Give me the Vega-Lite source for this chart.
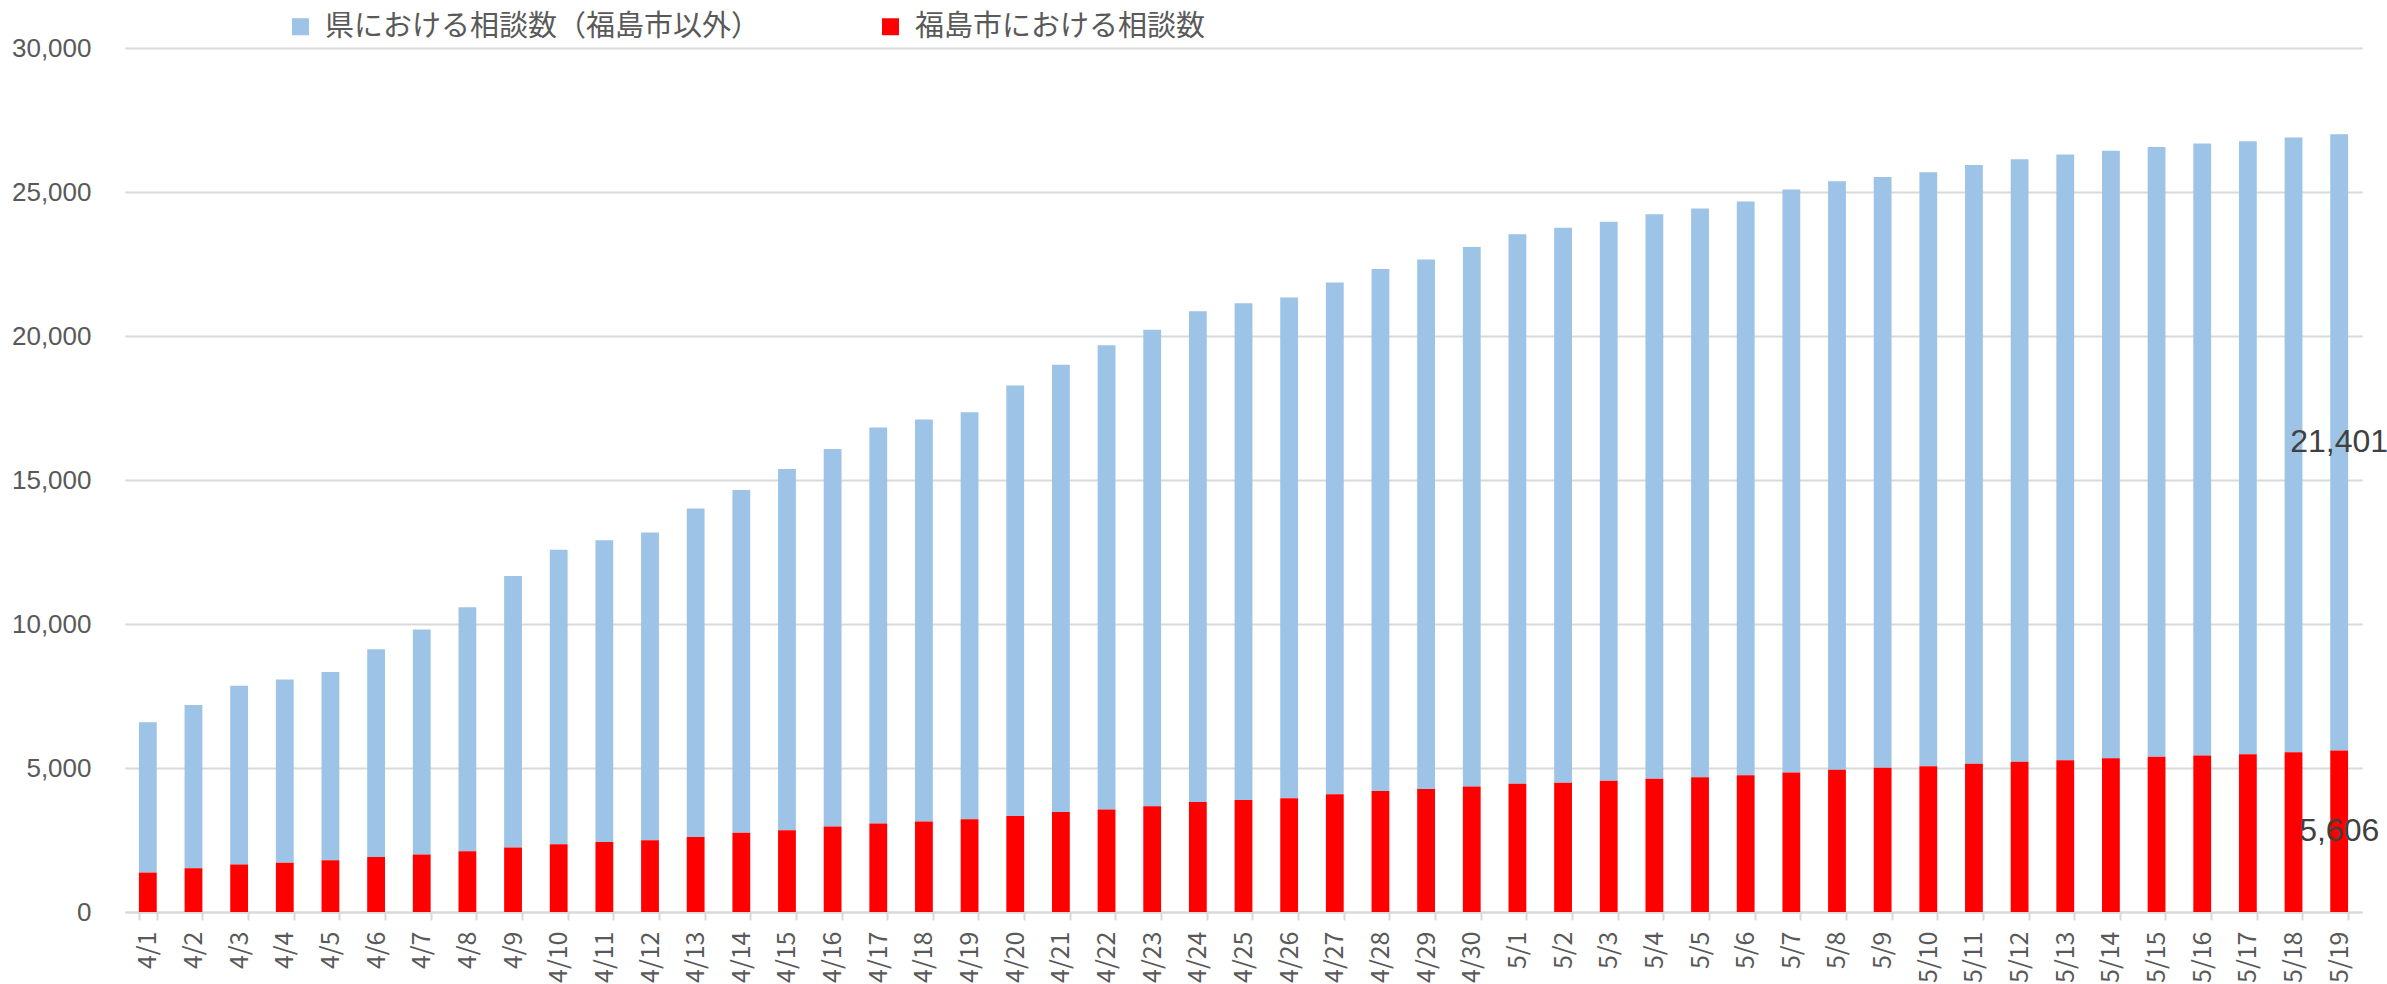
{
  "$schema": "https://vega.github.io/schema/vega-lite/v6.json",
  "width": 2237,
  "height": 864,
  "autosize": {"type": "none"},
  "padding": {"left": 125, "top": 48, "right": 25, "bottom": 72},
  "background": "white",
  "config": {"view": {"stroke": null}},
  "datasets": {
    "consult": [
      {"d": "4/1", "県における相談数（福島市以外）": 5220, "福島市における相談数": 1370},
      {"d": "4/2", "県における相談数（福島市以外）": 5670, "福島市における相談数": 1520},
      {"d": "4/3", "県における相談数（福島市以外）": 6210, "福島市における相談数": 1650},
      {"d": "4/4", "県における相談数（福島市以外）": 6360, "福島市における相談数": 1710},
      {"d": "4/5", "県における相談数（福島市以外）": 6530, "福島市における相談数": 1800},
      {"d": "4/6", "県における相談数（福島市以外）": 7210, "福島市における相談数": 1910},
      {"d": "4/7", "県における相談数（福島市以外）": 7810, "福島市における相談数": 2000},
      {"d": "4/8", "県における相談数（福島市以外）": 8470, "福島市における相談数": 2110},
      {"d": "4/9", "県における相談数（福島市以外）": 9430, "福島市における相談数": 2240},
      {"d": "4/10", "県における相談数（福島市以外）": 10230, "福島市における相談数": 2350},
      {"d": "4/11", "県における相談数（福島市以外）": 10480, "福島市における相談数": 2430},
      {"d": "4/12", "県における相談数（福島市以外）": 10690, "福島市における相談数": 2490},
      {"d": "4/13", "県における相談数（福島市以外）": 11410, "福島市における相談数": 2600},
      {"d": "4/14", "県における相談数（福島市以外）": 11900, "福島市における相談数": 2750},
      {"d": "4/15", "県における相談数（福島市以外）": 12540, "福島市における相談数": 2840},
      {"d": "4/16", "県における相談数（福島市以外）": 13110, "福島市における相談数": 2970},
      {"d": "4/17", "県における相談数（福島市以外）": 13750, "福島市における相談数": 3070},
      {"d": "4/18", "県における相談数（福島市以外）": 13960, "福島市における相談数": 3140},
      {"d": "4/19", "県における相談数（福島市以外）": 14130, "福島市における相談数": 3220},
      {"d": "4/20", "県における相談数（福島市以外）": 14950, "福島市における相談数": 3330},
      {"d": "4/21", "県における相談数（福島市以外）": 15530, "福島市における相談数": 3470},
      {"d": "4/22", "県における相談数（福島市以外）": 16120, "福島市における相談数": 3560},
      {"d": "4/23", "県における相談数（福島市以外）": 16550, "福島市における相談数": 3670},
      {"d": "4/24", "県における相談数（福島市以外）": 17040, "福島市における相談数": 3820},
      {"d": "4/25", "県における相談数（福島市以外）": 17250, "福島市における相談数": 3890},
      {"d": "4/26", "県における相談数（福島市以外）": 17390, "福島市における相談数": 3950},
      {"d": "4/27", "県における相談数（福島市以外）": 17770, "福島市における相談数": 4090},
      {"d": "4/28", "県における相談数（福島市以外）": 18130, "福島市における相談数": 4200},
      {"d": "4/29", "県における相談数（福島市以外）": 18390, "福島市における相談数": 4270},
      {"d": "4/30", "県における相談数（福島市以外）": 18730, "福島市における相談数": 4360},
      {"d": "5/1", "県における相談数（福島市以外）": 19080, "福島市における相談数": 4450},
      {"d": "5/2", "県における相談数（福島市以外）": 19270, "福島市における相談数": 4490},
      {"d": "5/3", "県における相談数（福島市以外）": 19410, "福島市における相談数": 4560},
      {"d": "5/4", "県における相談数（福島市以外）": 19600, "福島市における相談数": 4630},
      {"d": "5/5", "県における相談数（福島市以外）": 19750, "福島市における相談数": 4680},
      {"d": "5/6", "県における相談数（福島市以外）": 19920, "福島市における相談数": 4750},
      {"d": "5/7", "県における相談数（福島市以外）": 20250, "福島市における相談数": 4840},
      {"d": "5/8", "県における相談数（福島市以外）": 20430, "福島市における相談数": 4940},
      {"d": "5/9", "県における相談数（福島市以外）": 20510, "福島市における相談数": 5010},
      {"d": "5/10", "県における相談数（福島市以外）": 20630, "福島市における相談数": 5060},
      {"d": "5/11", "県における相談数（福島市以外）": 20790, "福島市における相談数": 5150},
      {"d": "5/12", "県における相談数（福島市以外）": 20920, "福島市における相談数": 5220},
      {"d": "5/13", "県における相談数（福島市以外）": 21030, "福島市における相談数": 5270},
      {"d": "5/14", "県における相談数（福島市以外）": 21090, "福島市における相談数": 5340},
      {"d": "5/15", "県における相談数（福島市以外）": 21170, "福島市における相談数": 5390},
      {"d": "5/16", "県における相談数（福島市以外）": 21250, "福島市における相談数": 5430},
      {"d": "5/17", "県における相談数（福島市以外）": 21280, "福島市における相談数": 5480},
      {"d": "5/18", "県における相談数（福島市以外）": 21340, "福島市における相談数": 5550},
      {"d": "5/19", "県における相談数（福島市以外）": 21401, "福島市における相談数": 5606}
    ]
  },
  "data": {"name": "consult"},
  "transform": [
    {"fold": ["県における相談数（福島市以外）", "福島市における相談数"], "as": ["series", "value"]}
  ],
  "layer": [
    {
      "mark": {"type": "bar"},
      "encoding": {
        "x": {
          "field": "d",
          "type": "ordinal",
          "sort": null,
          "title": null,
          "scale": {"paddingInner": 0.61, "paddingOuter": 0.305},
          "axis": {
            "labelAngle": -90,
            "labelFont": "Noto Sans CJK JP",
            "labelFontSize": 25,
            "labelColor": "#595959",
            "labelPadding": 11,
            "tickBand": "extent",
            "tickSize": 8,
            "tickColor": "#d9d9d9",
            "tickWidth": 2,
            "domainColor": "#d9d9d9",
            "domainWidth": 2,
            "grid": false
          }
        },
        "y": {
          "field": "value",
          "type": "quantitative",
          "stack": "zero",
          "title": null,
          "scale": {"domain": [0, 30000], "nice": false},
          "axis": {
            "values": [0, 5000, 10000, 15000, 20000, 25000, 30000],
            "format": ",d",
            "labelFont": "Liberation Sans",
            "labelFontSize": 26,
            "labelColor": "#595959",
            "labelPadding": 34,
            "ticks": false,
            "domain": false,
            "gridColor": "#d9d9d9",
            "gridWidth": 2
          }
        },
        "color": {
          "field": "series",
          "type": "nominal",
          "scale": {
            "domain": ["県における相談数（福島市以外）", "福島市における相談数"],
            "range": ["#9dc3e6", "#ff0000"]
          },
          "legend": {
            "title": null,
            "orient": "none",
            "legendX": 161,
            "legendY": -36,
            "direction": "horizontal",
            "symbolType": "square",
            "symbolSize": 289,
            "symbolStrokeWidth": 0,
            "symbolOpacity": 1,
            "labelFont": "Noto Sans CJK JP",
            "labelFontSize": 29,
            "labelColor": "#595959",
            "labelOffset": 10,
            "labelLimit": 0,
            "columnPadding": 115,
            "padding": 0
          }
        },
        "order": {"field": "series", "sort": "descending"}
      }
    },
    {
      "transform": [
        {"filter": "datum.d === '5/19'"},
        {"stack": "value", "groupby": ["d"], "sort": [{"field": "series", "order": "descending"}], "as": ["v0", "v1"]},
        {"calculate": "(datum.v0 + datum.v1) / 2", "as": "mid"}
      ],
      "mark": {"type": "text", "font": "Liberation Sans", "fontSize": 32, "color": "#404040", "align": "center", "baseline": "middle"},
      "encoding": {
        "x": {"field": "d", "type": "ordinal", "sort": null},
        "y": {
          "field": "mid",
          "type": "quantitative",
          "title": null,
          "scale": {"domain": [0, 30000], "nice": false},
          "axis": {
            "values": [0, 5000, 10000, 15000, 20000, 25000, 30000],
            "format": ",d",
            "labelFont": "Liberation Sans",
            "labelFontSize": 26,
            "labelColor": "#595959",
            "labelPadding": 34,
            "ticks": false,
            "domain": false,
            "gridColor": "#d9d9d9",
            "gridWidth": 2
          }
        },
        "text": {"field": "value", "type": "quantitative", "format": ","}
      }
    }
  ]
}
